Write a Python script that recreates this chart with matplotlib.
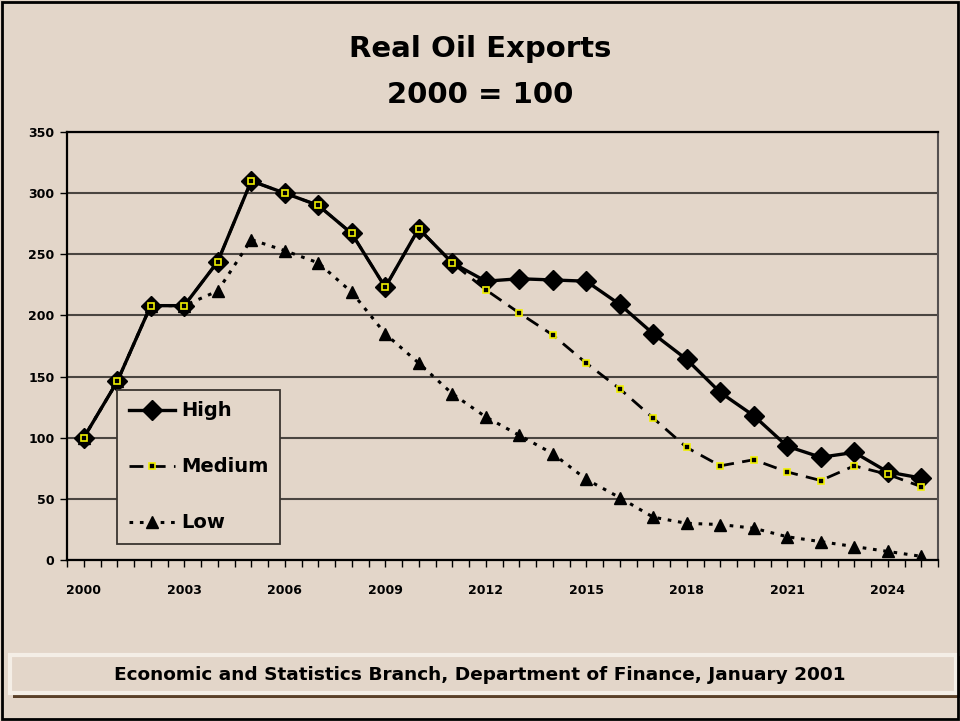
import numpy as np
import matplotlib.pyplot as plt
from matplotlib.patches import Rectangle

# Real oil exports index, 2000 = 100
years = list(range(2000, 2026))
high = [100, 146, 208, 208, 244, 310, 300, 290, 267, 223, 271, 243, 228,
        230, 229, 228, 209, 185, 164, 137, 118, 93, 84, 88, 72, 67]
medium = [100, 146, 208, 208, 244, 310, 300, 290, 267, 223, 271, 243, 221,
          202, 184, 161, 140, 116, 92, 77, 82, 72, 65, 77, 70, 60]
low = [100, 146, 208, 208, 220, 262, 253, 243, 219, 185, 161, 136, 117,
       102, 87, 66, 51, 35, 30, 29, 26, 19, 15, 11, 7, 3]
tick_years = [2000, 2003, 2006, 2009, 2012, 2015, 2018, 2021, 2024]

bg = '#e3d6c9'
text_font = ['DejaVu Sans']

fig = plt.figure(figsize=(9.6, 7.21), dpi=100, facecolor=bg)
ax = fig.add_axes([67 / 960, 1 - 560 / 721, (938 - 67) / 960, (560 - 132) / 721])
ax.set_facecolor(bg)

ax.plot(years, low, color='black', lw=2.2, linestyle=(0, (1.2, 2.2)),
        marker='^', markersize=9, markerfacecolor='black', markeredgecolor='black',
        label='Low', zorder=3)
ax.plot(years, high, color='black', lw=2.4, linestyle='-',
        marker='D', markersize=10, markerfacecolor='black', markeredgecolor='black',
        label='High', zorder=4)
ax.plot(years, medium, color='black', lw=2.0, linestyle=(0, (5, 3)),
        marker='s', markersize=5, markerfacecolor='black', markeredgecolor='#f0f000',
        markeredgewidth=1.2, label='Medium', zorder=5)

ax.set_xlim(1999.5, 2025.5)
ax.set_ylim(0, 350)
ax.set_yticks(np.arange(0, 351, 50))
ax.set_xticks(tick_years)
ax.set_xticks(np.arange(1999.5, 2025.6, 0.5), minor=True)
ax.tick_params(axis='x', which='both', direction='out', length=5, width=1,
               color='black', pad=12)
ax.tick_params(axis='y', direction='out', length=5, width=1, color='black', pad=4)
for lab in ax.get_xticklabels() + ax.get_yticklabels():
    lab.set_fontfamily(text_font)
    lab.set_fontweight('bold')
    lab.set_fontsize(9)

ax.yaxis.grid(True, color='#4a4540', lw=1.5)
ax.set_axisbelow(True)
for side in ['top', 'left', 'bottom']:
    ax.spines[side].set_color('black')
    ax.spines[side].set_linewidth(1.6)
ax.spines['right'].set_color('#555050')
ax.spines['right'].set_linewidth(1.5)

handles, labels = ax.get_legend_handles_labels()
order = [1, 2, 0]
leg = ax.legend([handles[i] for i in order], [labels[i] for i in order],
                loc='lower left', bbox_to_anchor=((117 - 67) / 871, (560 - 544) / 428),
                frameon=True, fancybox=False, edgecolor='#3a3530', facecolor=bg,
                framealpha=1, handlelength=2.4, handletextpad=0.3, labelspacing=1.9,
                borderpad=0.6, borderaxespad=0,
                prop={'family': text_font, 'weight': 'bold', 'size': 14})
leg.get_frame().set_linewidth(1.3)
leg.set_zorder(10)

fig.text(0.5, 1 - 49 / 721, 'Real Oil Exports', ha='center', va='center',
         fontsize=21, fontweight='bold', family=text_font)
fig.text(0.5, 1 - 95 / 721, '2000 = 100', ha='center', va='center',
         fontsize=21, fontweight='bold', family=text_font)

# footer box with shadow
fig.patches.append(Rectangle((13 / 960, 1 - 698 / 721), 947 / 960, 42 / 721,
                             transform=fig.transFigure, facecolor='#5a4028',
                             edgecolor='none', zorder=1))
fig.patches.append(Rectangle((10 / 960, 1 - 693 / 721), 946 / 960, 38 / 721,
                             transform=fig.transFigure, facecolor=bg,
                             edgecolor='#f4eee6', lw=3, zorder=2))
fig.text(0.5, 1 - 675 / 721, 'Economic and Statistics Branch, Department of Finance, January 2001',
         ha='center', va='center', fontsize=13.3, fontweight='bold', family=text_font, zorder=3)

# outer frame
fig.patches.append(Rectangle((2 / 960, 2 / 721), 956 / 960, 717 / 721,
                             transform=fig.transFigure, facecolor='none',
                             edgecolor='black', lw=2, zorder=5))

fig.savefig('out.png', dpi=100, facecolor=bg)
